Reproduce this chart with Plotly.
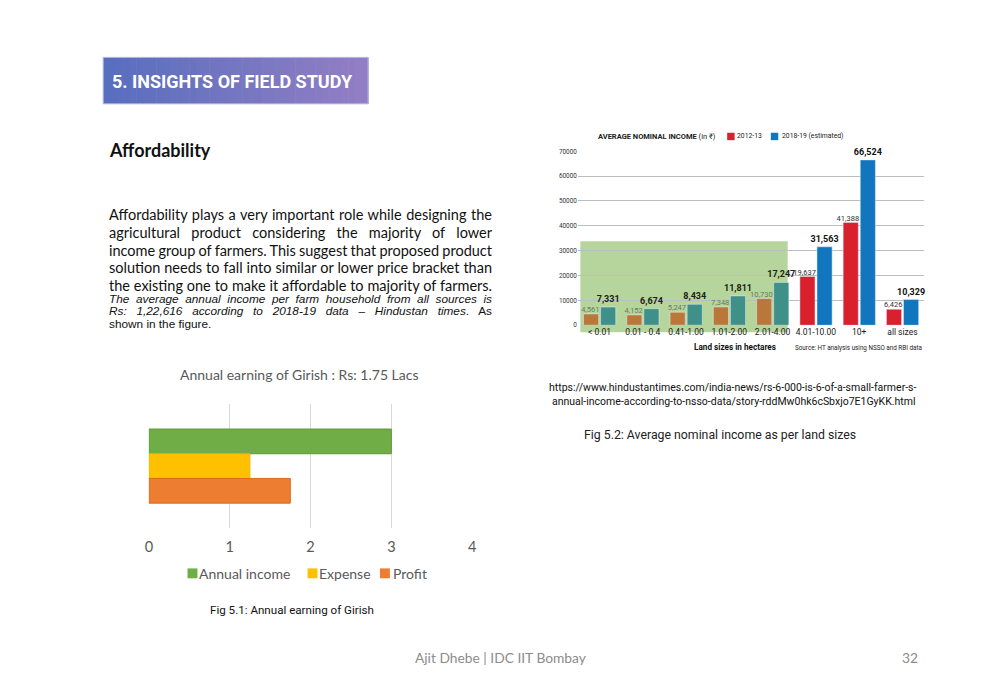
import json
import plotly.graph_objects as go

# ---------------- data ----------------
girish_items = ["Annual income", "Expense", "Profit"]
girish_values = [3.0, 1.25, 1.75]          # Rs lakh
girish_ticks = [0, 1, 2, 3, 4]

land_sizes = ["< 0.01", "0.01 - 0.4", "0.41-1.00", "1.01-2.00", "2.01-4.00",
              "4.01-10.00", "10+", "all sizes"]
income_2012 = [4561, 4152, 5247, 7348, 10730, 19637, 41388, 6426]
income_2018 = [7331, 6674, 8434, 11811, 17247, 31563, 66524, 10329]
income_ticks = [0, 10000, 20000, 30000, 40000, 50000, 60000, 70000]
highlight_count = 5   # small-farmer land sizes highlighted in green

# ---------------- styles ----------------
W, H = 1000, 692
CAL = "Lato, Carlito, Calibri, sans-serif"
NARROW = "Roboto, Arial, sans-serif"
ROB = "Roboto, Arial, sans-serif"
ARIAL = "Liberation Sans, Arial, sans-serif"
girish_colors = ["#70ad47", "#ffc000", "#ed7d31"]
girish_lines = ["#5f9a3a", "#f0b400", "#e06a1c"]
RED, BLUE = "#d9212e", "#1176bd"
BROWN, TEAL = "#b9783a", "#3f9088"


def py(px):
    return 1 - px / H


fig = go.Figure()

# ---- left chart: Annual earning of Girish ----
for name, val, col, lc in zip(girish_items, girish_values, girish_colors, girish_lines):
    fig.add_trace(go.Bar(
        y=["Girish"], x=[val], name=name, orientation="h",
        marker=dict(color=col, line=dict(color=lc, width=1)),
        xaxis="x", yaxis="y", showlegend=False, hoverinfo="x+name"))

# ---- right chart: average nominal income ----
segments = [
    (slice(0, highlight_count), BROWN, TEAL, True),
    (slice(highlight_count, None), RED, BLUE, False),
]
for sl, c12, c18, in_green in segments:
    fig.add_trace(go.Bar(
        x=land_sizes[sl], y=income_2012[sl], name="2012-13",
        marker=dict(color=c12), offset=-0.37, width=0.35,
        showlegend=False, xaxis="x2", yaxis="y2"))
for sl, c12, c18, in_green in segments:
    fig.add_trace(go.Bar(
        x=land_sizes[sl], y=income_2018[sl], name="2018-19 (estimated)",
        marker=dict(color=c18), offset=0.025, width=0.35,
        text=income_2018[sl], texttemplate="<b>%{y:,}</b>", textposition="outside",
        constraintext="none", textangle=0,
        textfont=dict(family=NARROW, size=9, color="#1a2412" if in_green else "#111111"),
        cliponaxis=False, showlegend=False, xaxis="x2", yaxis="y2"))
# 2012-13 value labels sit just left of the blue bar
label_colors = ["#6a7a5c"] * highlight_count + ["#333333"] * (len(land_sizes) - highlight_count)
fig.add_trace(go.Scatter(
    x=land_sizes, y=income_2012, mode="text", text=income_2012,
    texttemplate="%{y:,}", textposition="top left",
    textfont=dict(family=NARROW, size=7.5, color=label_colors),
    cliponaxis=False, showlegend=False, hoverinfo="skip", xaxis="x2", yaxis="y2"))

shapes = []
# header gradient box
x0h, x1h, y0h, y1h = 100, 367, 54, 101
n = 40
c0, c1 = (88, 110, 190), (146, 126, 196)
for i in range(n):
    t = i / (n - 1)
    col = tuple(round(a + (b - a) * t) for a, b in zip(c0, c1))
    shapes.append(dict(type="rect", xref="paper", yref="paper", layer="below",
                       x0=(x0h + (x1h - x0h) * i / n) / W,
                       x1=(x0h + (x1h - x0h) * (i + 1) / n + 0.6) / W,
                       y0=py(y1h), y1=py(y0h), line=dict(width=0),
                       fillcolor="rgb(%d,%d,%d)" % col))
shapes.append(dict(type="rect", xref="paper", yref="paper", layer="below",
                   x0=x0h / W, x1=x1h / W, y0=py(y1h), y1=py(y0h),
                   line=dict(color="#b3b6e3", width=1), fillcolor="rgba(0,0,0,0)"))
# green highlight of small land holdings
shapes.append(dict(type="rect", xref="paper", yref="paper", layer="below",
                   x0=581 / W, x1=790 / W, y0=py(332), y1=py(240),
                   line=dict(width=0), fillcolor="#b6d59c"))


def key(x, y, size, color):
    shapes.append(dict(type="rect", xref="paper", yref="paper", layer="above",
                       x0=x / W, x1=(x + size) / W, y0=py(y + size / 2), y1=py(y - size / 2),
                       line=dict(width=0), fillcolor=color))


annotations = []


def txt(x, y, s, size, family, color="#000000", xanchor="left", **kw):
    annotations.append(dict(x=x / W, y=py(y), xref="paper", yref="paper", text=s,
                            showarrow=False, xanchor=xanchor, yanchor="middle",
                            align=xanchor if xanchor != "center" else "center",
                            font=dict(size=size, family=family, color=color), **kw))


txt(107, 78, "<b>5. INSIGHTS OF FIELD STUDY</b>", 18, ROB, "#ffffff")
txt(104, 148, "<b>Affordability</b>", 18, CAL, "#111111")

para = [
    "Affordability plays a very important role while designing the",
    "agricultural product considering the majority of lower",
    "income group of farmers. This suggest that proposed product",
    "solution needs to fall into similar or lower price bracket than",
    "the existing one to make it affordable to majority of farmers.",
]
italic_lines = [
    "<i>The average annual income per farm household from all sources is</i>",
    "<i>Rs: 1,22,616 according to 2018-19 data – Hindustan times</i>. As",
]
justify = {}
for i, line in enumerate(para):
    txt(104, 213 + 18 * i, line, 14.5, CAL, "#111111")
    justify[line] = 383
for i, line in enumerate(italic_lines):
    txt(104, 298 + 13 * i, line, 11.8, ARIAL, "#111111")
    justify[line.replace("<i>", "").replace("</i>", "")] = 383
txt(104, 324, "shown in the figure.", 11.8, ARIAL, "#111111")

# left chart title, legend and caption
txt(298, 375, "Annual earning of Girish : Rs: 1.75 Lacs", 14, CAL, "#595959", xanchor="center")
for (kx, tx), name, col in zip([(185, 195), (306, 316), (379, 390)], girish_items, girish_colors):
    key(kx, 576, 10, col)
    txt(tx, 576, name, 14, CAL, "#595959")
txt(290, 613, "Fig 5.1: Annual earning of Girish", 11.6, ROB, "#111111", xanchor="center")

# right chart legend, axis title, source, captions
txt(597, 134, "<b>AVERAGE NOMINAL INCOME</b> (in ₹)", 7.5, NARROW, "#222222")
key(729, 134, 7.5, RED)
txt(737, 134, "2012-13", 6.8, NARROW, "#222222")
key(773, 134, 7.5, BLUE)
txt(782, 134, "2018-19 (estimated)", 6.8, NARROW, "#222222")
txt(737, 347, "<b>Land sizes in hectares</b>", 8.2, NARROW, "#111111", xanchor="center")
txt(927, 348, "Source: HT analysis using NSSO and RBI data", 6.3, NARROW, "#222222", xanchor="right")

txt(735, 388, "https://www.hindustantimes.com/india-news/rs-6-000-is-6-of-a-small-farmer-s-", 10.5, ROB, "#111111", xanchor="center")
txt(735, 402, "annual-income-according-to-nsso-data/story-rddMw0hk6cSbxjo7E1GyKK.html", 10.5, ROB, "#111111", xanchor="center")
txt(722, 436, "Fig 5.2: Average nominal income as per land sizes", 12.3, ROB, "#222222", xanchor="center")

txt(500, 661, "Ajit Dhebe | IDC IIT Bombay", 13.8, CAL, "#8c8c8c", xanchor="center")
txt(923, 661, "32", 13.8, CAL, "#8c8c8c", xanchor="right")

fig.update_layout(
    width=W, height=H, margin=dict(l=0, r=0, t=0, b=0),
    paper_bgcolor="#ffffff", plot_bgcolor="rgba(0,0,0,0)",
    barmode="group", bargap=0.4, bargroupgap=0,
    shapes=shapes, annotations=annotations, showlegend=False,
    xaxis=dict(domain=[0.146, 0.472], range=[0, 4], tickvals=girish_ticks,
               showgrid=True, gridcolor="#d9d9d9", gridwidth=1, zeroline=False,
               showline=False, ticks="", ticklabelstandoff=9,
               tickfont=dict(family=CAL, size=14.5, color="#595959"), fixedrange=True),
    yaxis=dict(domain=[py(530), py(405)], autorange="reversed", showticklabels=False,
               showgrid=False, zeroline=False, showline=False, ticks="", fixedrange=True),
    xaxis2=dict(domain=[0.5785, 0.9275], anchor="y2", type="category",
                range=[-0.5, len(land_sizes) - 0.5], showgrid=False, showline=False,
                ticks="", tickangle=0, ticklabelstandoff=0,
                tickfont=dict(family=NARROW, size=8.5, color="#1a1a1a"), fixedrange=True),
    yaxis2=dict(domain=[py(325), py(149)], anchor="x2", range=[0, 70000],
                tickvals=income_ticks, tickformat="d", showgrid=True, gridcolor="#bdbdbd",
                gridwidth=1, zeroline=False, showline=False, ticks="",
                tickfont=dict(family=NARROW, size=6.4, color="#333333"), fixedrange=True),
)

post = (
    "document.body.style.margin='0';document.body.style.overflow='hidden';"
    "var gd=document.getElementById('{plot_id}');var J=" + json.dumps(justify) + ";"
    "gd.querySelectorAll('text.annotation-text').forEach(function(t){"
    "var s=t.textContent;if(J[s]){var n=(s.match(/ /g)||[]).length;"
    "t.style.wordSpacing='0px';var L=t.getComputedTextLength();"
    "t.style.wordSpacing=((J[s]-L)/n)+'px';}});"
)

fig.write_html("out.html", post_script=post, config={"displayModeBar": False})
